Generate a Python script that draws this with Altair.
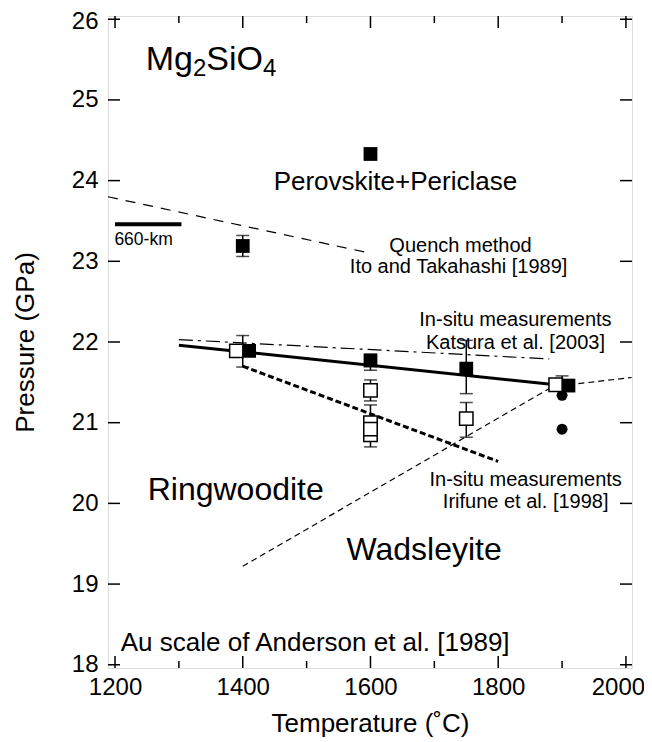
import altair as alt
import pandas as pd

# ---------------- data ----------------
filled_T = [1400, 1410, 1600, 1600, 1750, 1910]
filled_P = [23.19, 21.89, 24.33, 21.77, 21.67, 21.46]

open_T = [1390, 1600, 1600, 1600, 1600, 1750, 1890]
open_P = [21.89, 21.40, 21.00, 20.85, 20.92, 21.05, 21.47]

circle_T = [1900, 1900]
circle_P = [21.34, 20.92]

err_T = [1400, 1400, 1600, 1600, 1600, 1600, 1600, 1750, 1750, 1900]
err_lo = [23.06, 21.69, 24.27, 21.65, 21.27, 20.78, 20.70, 21.36, 20.82, 21.40]
err_hi = [23.32, 22.08, 24.39, 21.85, 21.53, 21.22, 21.00, 22.02, 21.25, 21.58]

ito_T = [1189, 1600]
ito_P = [23.80, 23.10]
katsura_T = [1300, 1890]
katsura_P = [21.96, 21.47]
katsura_dd_T = [1300, 1880]
katsura_dd_P = [22.03, 21.79]
irifune_T = [1400, 1800]
irifune_P = [21.70, 20.52]
rw_wd_T = [1400, 1890]
rw_wd_P = [19.22, 21.47]
ext_T = [1910, 2009]
ext_P = [21.47, 21.56]
km660_T = [1200, 1304]
km660_P = [23.46, 23.46]

x_major = [1200, 1400, 1600, 1800, 2000]
x_minor = [1300, 1500, 1700, 1900]
y_major = [18, 19, 20, 21, 22, 23, 24, 25, 26]

labels = ["Perovskite+Periclase", "Quench method", "Ito and Takahashi [1989]",
          "In-situ measurements", "Katsura et al. [2003]", "In-situ measurements",
          "Irifune et al. [1998]", "Ringwoodite", "Wadsleyite", "660-km",
          "Au scale of Anderson et al. [1989]"]
label_T = [1639, 1741, 1738, 1827, 1827, 1843, 1843, 1389, 1684, 1199, 1209]
label_P = [23.98, 23.19, 22.93, 22.27, 21.99, 20.29, 20.02, 20.16, 19.42, 23.26, 18.27]
label_size = [26, 20, 20, 20, 20, 20, 20, 32, 32, 17.5, 26]
label_align = ["center", "center", "center", "center", "center", "center",
               "center", "center", "center", "left", "left"]

# formula label: pieces of "Mg2SiO4" (normal / subscript)
formula_parts = ["Mg", "2", "SiO", "4"]
formula_T = 1248
formula_P = 25.50

# ---------------- scales ----------------
FONT = "Liberation Sans"
W, H = 524, 652
xs = alt.Scale(domain=[1189, 2009.5], nice=False, zero=False)
ys = alt.Scale(domain=[17.96, 26.04], nice=False, zero=False)

x_axis = alt.Axis(values=x_major, ticks=False, domain=False, grid=False, labelFontSize=24,
                  labelPadding=7, titleFontSize=26, titlePadding=11, labelFont=FONT,
                  titleFont=FONT, titleFontWeight="normal", labelColor="black",
                  titleColor="black", format="d", labelFlush=False,
                  labelOffset=alt.ExprRef(expr="datum.value == 2000 ? -8 : 0"))
y_axis = alt.Axis(values=y_major, ticks=False, domain=False, grid=False, labelFontSize=24,
                  labelPadding=10, titleFontSize=26, titlePadding=33, labelFont=FONT,
                  titleFont=FONT, titleFontWeight="normal", labelColor="black",
                  titleColor="black", format="d", labelFlush=False,
                  labelOffset=alt.ExprRef(expr="datum.value == 26 ? 2 : 0"))
XT = "Temperature (˚C)"
YT = "Pressure (GPa)"

X = lambda f: alt.X(f, type="quantitative", scale=xs, axis=x_axis, title=XT)
Y = lambda f: alt.Y(f, type="quantitative", scale=ys, axis=y_axis, title=YT)

def line(T, P, **kw):
    df = pd.DataFrame({"T": T, "P": P})
    return alt.Chart(df).mark_line(color="black", **kw).encode(x=X("T"), y=Y("P"))

# inward ticks
xmaj = pd.DataFrame({"T": x_major})
xmin = pd.DataFrame({"T": x_minor})
ymaj = pd.DataFrame({"P": y_major})
tk = dict(color="black", strokeWidth=1.5)
ticks = [
    alt.Chart(xmaj).mark_rule(**tk).encode(x=X("T"), y=alt.value(H), y2=alt.value(H - 12)),
    alt.Chart(xmaj).mark_rule(**tk).encode(x=X("T"), y=alt.value(0), y2=alt.value(12)),
    alt.Chart(xmin).mark_rule(**tk).encode(x=X("T"), y=alt.value(H), y2=alt.value(H - 7)),
    alt.Chart(xmin).mark_rule(**tk).encode(x=X("T"), y=alt.value(0), y2=alt.value(7)),
    alt.Chart(ymaj).mark_rule(**tk).encode(y=Y("P"), x=alt.value(0), x2=alt.value(12)),
    alt.Chart(ymaj).mark_rule(**tk).encode(y=Y("P"), x=alt.value(W), x2=alt.value(W - 12)),
]

lines = [
    line(ito_T, ito_P, strokeWidth=1.2, strokeDash=[10, 8]),
    line(katsura_dd_T, katsura_dd_P, strokeWidth=1.2, strokeDash=[14, 5, 3, 5]),
    line(katsura_T, katsura_P, strokeWidth=3),
    line(irifune_T, irifune_P, strokeWidth=3, strokeDash=[6, 3]),
    line(rw_wd_T, rw_wd_P, strokeWidth=1.2, strokeDash=[6, 4]),
    line(ext_T, ext_P, strokeWidth=1.2, strokeDash=[6, 4]),
    line(km660_T, km660_P, strokeWidth=4),
]

err = pd.DataFrame({"T": err_T, "lo": err_lo, "hi": err_hi})
errbars = [
    alt.Chart(err).mark_rule(color="black", strokeWidth=1.5).encode(x=X("T"), y=Y("lo"), y2="hi"),
    alt.Chart(err).mark_tick(color="black", orient="horizontal", size=13, thickness=1.5).encode(x=X("T"), y=Y("lo")),
    alt.Chart(err).mark_tick(color="black", orient="horizontal", size=13, thickness=1.5).encode(x=X("T"), y=Y("hi")),
]

circles = alt.Chart(pd.DataFrame({"T": circle_T, "P": circle_P})).mark_circle(
    color="black", size=120, opacity=1).encode(x=X("T"), y=Y("P"))
opens = alt.Chart(pd.DataFrame({"T": open_T, "P": open_P, "o": list(range(len(open_T)))})).mark_square(
    fill="white", stroke="black", strokeWidth=1.5, size=180, opacity=1, filled=True
).encode(x=X("T"), y=Y("P"), order="o:Q")
filled = alt.Chart(pd.DataFrame({"T": filled_T, "P": filled_P})).mark_square(
    color="black", size=190, opacity=1).encode(x=X("T"), y=Y("P"))

lab = pd.DataFrame({"t": labels, "T": label_T, "P": label_P, "s": label_size, "a": label_align})
texts = []
for a in ["left", "center"]:
    texts.append(
        alt.Chart(lab[lab.a == a]).mark_text(align=a, baseline="middle", font=FONT, color="black").encode(
            x=X("T"), y=Y("P"), text="t:N", size=alt.Size("s:Q", scale=None, legend=None))
    )

# Mg2SiO4 with real subscripts (normal 34px, subscript 24px)
fdf = pd.DataFrame({"T": [formula_T], "P": [formula_P]})
big, small = 34, 24
w_mg = (0.833 + 0.556) * big
w_2 = 0.556 * small
w_sio = (0.667 + 0.222 + 0.778) * big
offs = [0, w_mg, w_mg + w_2, w_mg + w_2 + w_sio]
sizes = [big, small, big, small]
dys = [0, 9, 0, 9]
formula = [
    alt.Chart(fdf).mark_text(text=t, align="left", baseline="middle", font=FONT, color="black",
                             fontSize=s, dx=o, dy=d).encode(x=X("T"), y=Y("P"))
    for t, s, o, d in zip(formula_parts, sizes, offs, dys)
]

chart = alt.layer(*ticks, *lines, *errbars, circles, opens, filled, *texts, *formula).properties(
    width=W, height=H,
    autosize=alt.AutoSizeParams(type="none"),
    padding={"left": 100, "top": 8, "right": 12, "bottom": 74},
).configure_view(stroke="black", strokeWidth=1.5).configure(background="white")

chart.save("out.html", embed_options={"renderer": "svg", "actions": False})
